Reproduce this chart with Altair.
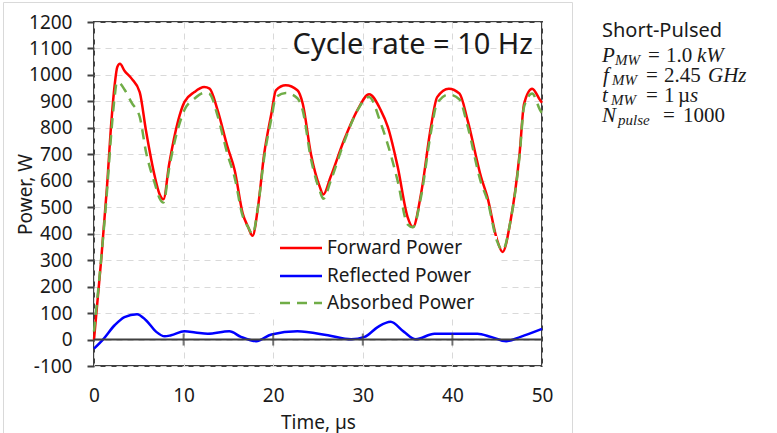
import altair as alt
import pandas as pd

# ---------------- data ----------------
time_fwd = [0, 0.8, 1.45, 1.95, 2.3, 2.6, 2.9, 3.4, 4.2, 5.1, 5.8, 6.8, 7.3, 7.75, 8.4,
            9.4, 10.1, 11.2, 12.3, 12.9, 13.8, 14.9, 15.7, 16.6, 17.2, 17.7, 18.3, 19.0,
            19.8, 20.3, 21.4, 22.7, 23.3, 24.2, 25.2, 25.6, 26.4, 27.9, 29.4, 30.7, 32.0,
            32.8, 33.9, 35.0, 35.6, 36.5, 37.6, 38.3, 39.6, 40.8, 41.7, 43.2, 43.9, 45.0,
            45.6, 46.5, 47.5, 48.0, 48.9, 49.8, 50]
forward = [0, 300, 577, 828, 960, 1030, 1042, 1016, 986, 935, 790, 614, 551, 530, 665,
           828, 898, 935, 954, 948, 866, 728, 640, 476, 425, 392, 500, 703,
           854, 942, 961, 942, 891, 703, 577, 548, 614, 753, 867, 927, 867,
           803, 652, 463, 425, 551, 803, 916, 948, 929, 828, 614, 539, 375,
           331, 451, 703, 891, 948, 904, 895]

time_abs = [0, 0.8, 1.45, 1.95, 2.3, 2.55, 2.9, 3.4, 4.2, 5.1, 5.8, 6.8, 7.3, 7.75, 8.4,
            9.4, 10.1, 11.2, 12.3, 12.9, 13.8, 14.9, 15.7, 16.6, 17.2, 17.7, 18.3, 19.0,
            19.8, 20.3, 21.4, 22.7, 23.3, 24.2, 25.2, 25.6, 26.4, 27.9, 29.4, 30.7, 32.0,
            32.8, 33.9, 35.0, 35.6, 36.5, 37.6, 38.3, 39.6, 40.8, 41.7, 43.2, 43.9, 45.0,
            45.6, 46.5, 47.5, 48.0, 48.9, 49.8, 50]
absorbed = [30, 305, 560, 790, 915, 973, 968, 945, 895, 842, 710, 588, 535, 518, 650,
            800, 868, 910, 932, 928, 845, 700, 612, 466, 425, 398, 500, 690,
            835, 915, 932, 912, 865, 685, 562, 532, 598, 745, 866, 917, 818,
            736, 598, 435, 424, 540, 782, 894, 926, 907, 806, 592, 527, 370,
            337, 451, 695, 880, 930, 866, 855]

time_ref = [0, 1.0, 2.3, 3.4, 4.8, 5.8, 6.95, 7.9, 8.6, 10.1, 11.3, 12.7, 15.1, 16.4,
            18.1, 19.8, 22.7, 26.1, 28.7, 30.2, 31.7, 33.1, 34.6, 35.9, 38.0, 40.3,
            42.8, 44.3, 46.0, 47.6, 50]
reflected = [-34, 0, 54, 85, 96, 73, 29, 12, 16, 31, 27, 22, 31, 10,
             -6, 19, 31, 16, 1, 10, 48, 67, 29, 1, 22, 22,
             22, 10, -6, 10, 40]

series_names = ["Forward Power", "Reflected Power", "Absorbed Power"]
series_colors = ["#FF0000", "#0000FF", "#70AD47"]

x_ticks = [0, 10, 20, 30, 40, 50]
zero_ticks = [10, 20, 30, 40]
y_ticks = [-100, 0, 100, 200, 300, 400, 500, 600, 700, 800, 900, 1000, 1100, 1200]

df_fwd = pd.DataFrame({"t": time_fwd, "v": forward})
df_abs = pd.DataFrame({"t": time_abs, "v": absorbed})
df_ref = pd.DataFrame({"t": time_ref, "v": reflected})
df_ticks = pd.DataFrame({"t": zero_ticks})
one = pd.DataFrame({"a": [0]})

W, H = 448, 344
FONT = "Noto Sans"
MATH = "Liberation Serif"
TXT = "#1a1a1a"
AX = "#404040"

xs = alt.Scale(domain=[0, 50], nice=False, zero=False)
ys = alt.Scale(domain=[-100, 1200], nice=False, zero=False)

x_axis = alt.Axis(
    values=x_ticks, grid=True, gridDash=[6, 5], gridColor="#d9d9d9", gridWidth=1,
    ticks=False, tickSize=0, domain=False, labelPadding=20, labelFontSize=19,
    labelFont=FONT, labelColor=TXT, labelFlush=False, labelOverlap=False,
    labelExpr="'' + datum.value",
    title="Time, µs", titleFont=FONT, titleFontSize=19, titleFontWeight="normal",
    titleColor=TXT, titleX=224, titleY=56, titleBaseline="middle", titleAlign="center")
y_axis = alt.Axis(
    values=y_ticks, grid=True, gridDash=[6, 5], gridColor="#d9d9d9", gridWidth=1,
    ticks=True, tickSize=7, tickWidth=2, tickColor=AX, domain=False,
    labelPadding=15, labelFontSize=19, labelFont=FONT, labelColor=TXT,
    labelFlush=False, labelOverlap=False, labelSeparation=0,
    labelExpr="'' + datum.value",
    title="Power, W", titleFont=FONT, titleFontSize=19, titleFontWeight="normal",
    titleColor=TXT, titleX=-69, titleY=172, titleAngle=-90,
    titleBaseline="middle", titleAlign="center")


def xe():
    return alt.X("t:Q", scale=xs, axis=x_axis)


def ye():
    return alt.Y("v:Q", scale=ys, axis=y_axis)


# outer light frame
outer = alt.Chart(one).mark_rect(fillOpacity=0, stroke="#d9d9d9", strokeWidth=1).encode(
    x=alt.value(-90.5), x2=alt.value(478.5), y=alt.value(-19.5), y2=alt.value(415))

line_fwd = alt.Chart(df_fwd).mark_line(color=series_colors[0], strokeWidth=2.5,
                                       interpolate="monotone").encode(x=xe(), y=ye())
line_ref = alt.Chart(df_ref).mark_line(color=series_colors[1], strokeWidth=2.5,
                                       interpolate="monotone").encode(x=xe(), y=ye())
line_abs = alt.Chart(df_abs).mark_line(color=series_colors[2], strokeWidth=2.5,
                                       strokeDash=[10, 7],
                                       interpolate="monotone").encode(x=xe(), y=ye())

zero_rule = alt.Chart(one).mark_rule(color=AX, strokeWidth=2).encode(
    y=alt.YDatum(0, scale=ys, axis=y_axis))
zero_tk = alt.Chart(df_ticks).mark_tick(orient="vertical", size=12, thickness=2,
                                        color=AX).encode(
    x=xe(), y=alt.YDatum(0, scale=ys, axis=y_axis))

# legend
leg_box = alt.Chart(one).mark_rect(fill="white").encode(
    x=alt.value(166), x2=alt.value(403), y=alt.value(214), y2=alt.value(296))
leg_layers = []
rows = [226, 254, 281]
for name, col, ry, dash in zip(series_names, series_colors, rows,
                               [[1, 0], [1, 0], [10, 7]]):
    leg_layers.append(alt.Chart(one).mark_rule(color=col, strokeWidth=2.5,
                                               strokeDash=dash).encode(
        x=alt.value(186), x2=alt.value(228), y=alt.value(ry)))
    leg_layers.append(alt.Chart(one).mark_text(text=name, font=FONT, fontSize=19,
                                               color=TXT, align="left",
                                               baseline="middle").encode(
        x=alt.value(233), y=alt.value(ry)))


def txt(s, x, y, size=21, font=MATH, style="normal", align="left"):
    return alt.Chart(one).mark_text(text=s, font=font, fontSize=size, fontStyle=style,
                                    color=TXT, align=align,
                                    baseline="alphabetic").encode(
        x=alt.value(x), y=alt.value(y))


annot = [
    txt("Cycle rate = 10 Hz", 439, 32, size=29, font=FONT, align="right"),
    txt("Short-Pulsed", 508, 15, size=20, font=FONT),
    # P_MW = 1.0 kW
    txt("P", 508, 40, style="italic"), txt("MW", 521, 43, size=15, style="italic"),
    txt("=", 554, 40), txt("1.0", 572, 40), txt("kW", 603, 40, style="italic"),
    # f_MW = 2.45 GHz
    txt("f", 509, 60, style="italic"), txt("MW", 518, 63, size=15, style="italic"),
    txt("=", 552, 60), txt("2.45", 570, 60), txt("GHz", 614, 60, style="italic"),
    # t_MW = 1 µs
    txt("t", 508, 80, style="italic"), txt("MW", 517, 83, size=15, style="italic"),
    txt("=", 552, 80), txt("1", 570, 80), txt("µ", 584, 80),
    txt("s", 596, 80, style="italic"),
    # N_pulse = 1000
    txt("N", 508, 100, style="italic"), txt("pulse", 524, 103, size=15, style="italic"),
    txt("=", 569, 100), txt("1000", 589, 100),
]

chart = alt.layer(
    line_fwd, outer, leg_box, *leg_layers, line_ref, line_abs,
    zero_rule, zero_tk, *annot
).properties(
    width=W, height=H,
    padding={"left": 94, "top": 22, "right": 235, "bottom": 67},
    autosize=alt.AutoSizeParams(type="none"),
).configure_view(stroke=AX, strokeWidth=2).configure_axis(labelOverlap=False)

chart.save("out.html", embed_options={"renderer": "svg", "actions": False})
